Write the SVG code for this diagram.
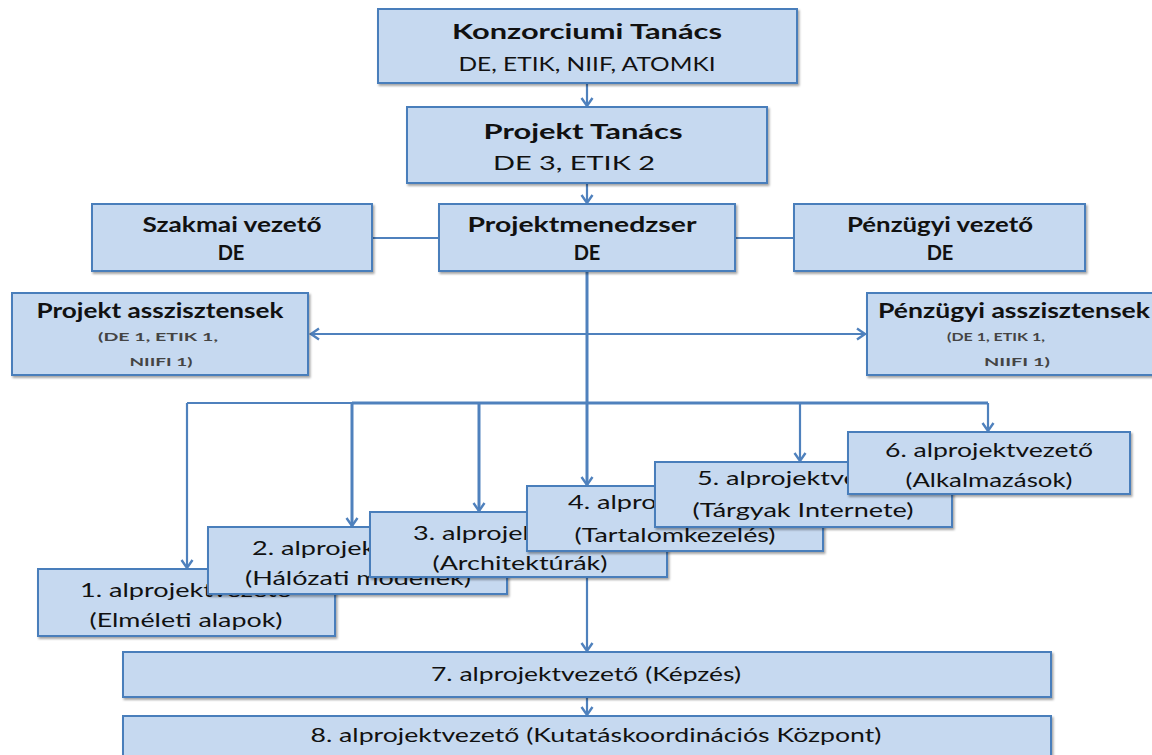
<svg xmlns="http://www.w3.org/2000/svg" width="1152" height="755" viewBox="0 0 1152 755">
<style>
.box{fill:#c6d9f0;stroke:#4a7ebb;stroke-width:2;filter:url(#sh)}
.t{font-family:Lato,"Liberation Sans",sans-serif;font-size:20px;fill:#111;text-anchor:middle}
.b{font-weight:bold}
.s{font-family:Lato,"Liberation Sans",sans-serif;font-size:12px;font-weight:bold;fill:#444;text-anchor:middle}
.c{fill:none;stroke:#4f81bd;stroke-width:2.2}
.ct{fill:none;stroke:#4f81bd;stroke-width:3}
</style>
<defs>
<filter id="sh" x="-5%" y="-10%" width="110%" height="130%">
<feDropShadow dx="1.5" dy="2" stdDeviation="1.2" flood-color="#000" flood-opacity="0.35"/>
</filter>
<marker id="a" markerUnits="userSpaceOnUse" markerWidth="14" markerHeight="14" refX="11" refY="7" orient="auto-start-reverse">
<path d="M3,1.5 L11,7 L3,12.5" fill="none" stroke="#4f81bd" stroke-width="2.4"/>
</marker>
</defs>
<rect width="1152" height="755" fill="#fff"/>
<g id="connectors">
<line class="c" x1="587" y1="83" x2="587" y2="106" marker-end="url(#a)"/>
<line class="c" x1="587" y1="183" x2="587" y2="203" marker-end="url(#a)"/>
<line class="c" x1="372" y1="238" x2="439" y2="238"/>
<line class="c" x1="735" y1="238" x2="794" y2="238"/>
<line class="c" x1="311" y1="334" x2="865" y2="334" marker-start="url(#a)" marker-end="url(#a)"/>
<line class="ct" x1="587" y1="271" x2="587" y2="485" marker-end="url(#a)"/>
<line class="c" x1="187" y1="403" x2="352" y2="403"/>
<line class="ct" x1="352" y1="403" x2="988" y2="403"/>
<polyline class="c" points="187,403 187,568" marker-end="url(#a)"/>
<line class="ct" x1="352" y1="403" x2="352" y2="526" marker-end="url(#a)"/>
<line class="ct" x1="479" y1="403" x2="479" y2="511" marker-end="url(#a)"/>
<line class="c" x1="800" y1="403" x2="800" y2="461" marker-end="url(#a)"/>
<line class="c" x1="988" y1="403" x2="988" y2="431" marker-end="url(#a)"/>
<line class="c" x1="587" y1="577" x2="587" y2="651" marker-end="url(#a)"/>
<line class="c" x1="587" y1="697" x2="587" y2="715" marker-end="url(#a)"/>
</g>
<g id="konzorciumi">
<rect class="box" x="378" y="9" width="419" height="74"/>
<text class="t b" x="587" y="39" textLength="270" lengthAdjust="spacingAndGlyphs">Konzorciumi Tanács</text>
<text class="t" x="587" y="71" textLength="257" lengthAdjust="spacingAndGlyphs">DE, ETIK, NIIF, ATOMKI</text>
</g>
<g id="projekt-tanacs">
<rect class="box" x="407" y="107" width="360" height="76"/>
<text class="t b" x="583" y="139" textLength="199" lengthAdjust="spacingAndGlyphs">Projekt Tanács</text>
<text class="t" x="574" y="170" textLength="162" lengthAdjust="spacingAndGlyphs">DE 3, ETIK 2</text>
</g>
<g id="szakmai">
<rect class="box" x="92" y="204" width="280" height="67"/>
<text class="t b" x="232" y="232" textLength="179" lengthAdjust="spacingAndGlyphs">Szakmai vezető</text>
<text class="t b" x="231" y="260">DE</text>
</g>
<g id="projektmenedzser">
<rect class="box" x="439" y="204" width="296" height="67"/>
<text class="t b" x="582" y="232" textLength="229" lengthAdjust="spacingAndGlyphs">Projektmenedzser</text>
<text class="t b" x="587" y="260">DE</text>
</g>
<g id="penzugyi-vezeto">
<rect class="box" x="794" y="204" width="291" height="67"/>
<text class="t b" x="940" y="232" textLength="186" lengthAdjust="spacingAndGlyphs">Pénzügyi vezető</text>
<text class="t b" x="940" y="260">DE</text>
</g>
<g id="projekt-asszisztensek">
<rect class="box" x="12" y="293" width="296" height="82"/>
<text class="t b" x="160" y="318" textLength="247" lengthAdjust="spacingAndGlyphs">Projekt asszisztensek</text>
<text class="s" x="158" y="341" textLength="120" lengthAdjust="spacingAndGlyphs">(DE 1, ETIK 1,</text>
<text class="s" x="161" y="366" textLength="63" lengthAdjust="spacingAndGlyphs">NIIFI 1)</text>
</g>
<g id="penzugyi-asszisztensek">
<rect class="box" x="867" y="293" width="290" height="82"/>
<text class="t b" x="1014" y="318" textLength="272" lengthAdjust="spacingAndGlyphs">Pénzügyi asszisztensek</text>
<text class="s" x="996" y="341" textLength="98" lengthAdjust="spacingAndGlyphs">(DE 1, ETIK 1,</text>
<text class="s" x="1017" y="366" textLength="66" lengthAdjust="spacingAndGlyphs">NIIFI 1)</text>
</g>
<g id="alprojekt-1">
<rect class="box" x="38" y="569" width="297" height="67"/>
<text class="t" x="186" y="597" textLength="212" lengthAdjust="spacingAndGlyphs">1. alprojektvezető</text>
<text class="t" x="186" y="627" textLength="193" lengthAdjust="spacingAndGlyphs">(Elméleti alapok)</text>
</g>
<g id="alprojekt-2">
<rect class="box" x="208" y="527" width="299" height="67"/>
<text class="t" x="358" y="555" textLength="212" lengthAdjust="spacingAndGlyphs">2. alprojektvezető</text>
<text class="t" x="358" y="585" textLength="226" lengthAdjust="spacingAndGlyphs">(Hálózati modellek)</text>
</g>
<g id="alprojekt-3">
<rect class="box" x="370" y="512" width="297" height="65"/>
<text class="t" x="519" y="540" textLength="212" lengthAdjust="spacingAndGlyphs">3. alprojektvezető</text>
<text class="t" x="520" y="570" textLength="175" lengthAdjust="spacingAndGlyphs">(Architektúrák)</text>
</g>
<g id="alprojekt-4">
<rect class="box" x="527" y="486" width="296" height="65"/>
<text class="t" x="674" y="509" textLength="212" lengthAdjust="spacingAndGlyphs">4. alprojektvezető</text>
<text class="t" x="675" y="542" textLength="201" lengthAdjust="spacingAndGlyphs">(Tartalomkezelés)</text>
</g>
<g id="alprojekt-5">
<rect class="box" x="655" y="462" width="297" height="65"/>
<text class="t" x="803" y="485" textLength="212" lengthAdjust="spacingAndGlyphs">5. alprojektvezető</text>
<text class="t" x="803" y="517" textLength="221" lengthAdjust="spacingAndGlyphs">(Tárgyak Internete)</text>
</g>
<g id="alprojekt-6">
<rect class="box" x="848" y="432" width="282" height="62"/>
<text class="t" x="989" y="457" textLength="208" lengthAdjust="spacingAndGlyphs">6. alprojektvezető</text>
<text class="t" x="989" y="487" textLength="167" lengthAdjust="spacingAndGlyphs">(Alkalmazások)</text>
</g>
<g id="alprojekt-7">
<rect class="box" x="123" y="652" width="928" height="45"/>
<text class="t" x="586" y="681" textLength="310" lengthAdjust="spacingAndGlyphs">7. alprojektvezető (Képzés)</text>
</g>
<g id="alprojekt-8">
<rect class="box" x="123" y="716" width="928" height="45"/>
<text class="t" x="596" y="742" textLength="571" lengthAdjust="spacingAndGlyphs">8. alprojektvezető (Kutatáskoordinációs Központ)</text>
</g>
</svg>
